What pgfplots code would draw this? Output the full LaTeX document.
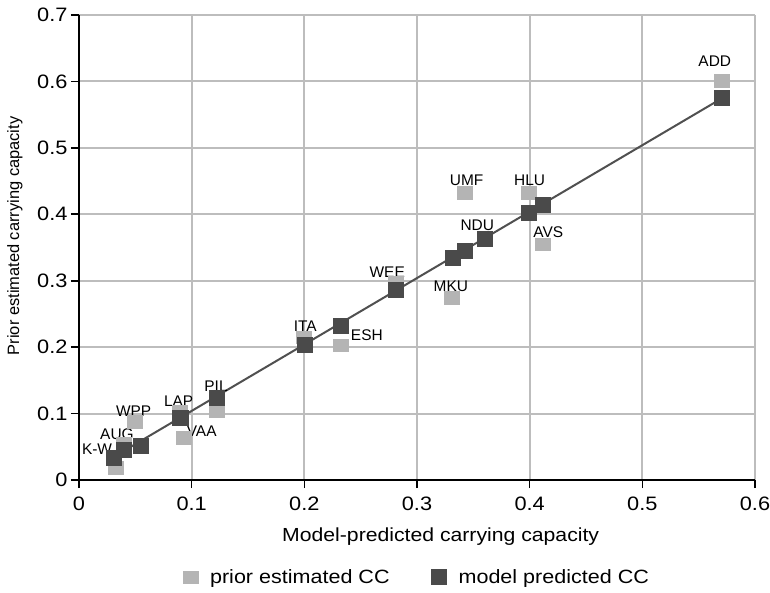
\documentclass[border=0pt]{standalone}
\usepackage{pgfplots}
\pgfplotsset{compat=1.18}
\usepackage{fontspec}
\setmainfont{Liberation Sans}
\newfontfamily\wide[FakeStretch=1.12]{Liberation Sans}
\definecolor{lightc}{HTML}{B4B4B4}
\definecolor{darkc}{HTML}{4A4A4A}
\definecolor{gridc}{HTML}{BDBDBD}
\definecolor{linec}{HTML}{505050}
\begin{document}
\begin{tikzpicture}
\path[use as bounding box] (-79bp,-113bp) rectangle (691bp,480bp);
\begin{axis}[
  at={(0,0)}, anchor=south west,
  scale only axis, width=676bp, height=465bp,
  xmin=0, xmax=0.6, ymin=0, ymax=0.7,
  xtick={0,0.1,0.2,0.3,0.4,0.5,0.6},
  xticklabels={0,0.1,0.2,0.3,0.4,0.5,0.6},
  ytick={0,0.1,0.2,0.3,0.4,0.5,0.6,0.7},
  yticklabels={0,0.1,0.2,0.3,0.4,0.5,0.6,0.7},
  axis x line=bottom, axis y line=left,
  axis line style={-, black, line width=1.6bp},
  grid=major, grid style={gridc, line width=2bp},
  tick align=outside, major tick length=8bp,
  tick style={black, line width=1.6bp},
  ticklabel style={font=\wide\fontsize{19.5}{22}\selectfont},
  xticklabel style={yshift=-5bp},
  xlabel={Model-predicted carrying capacity},
  xlabel style={at={(axis description cs:0.535,0)}, anchor=base, yshift=-61bp, font=\wide\fontsize{19}{22}\selectfont},
  ylabel={Prior estimated carrying capacity},
  ylabel style={at={(axis description cs:-0.0947,0.525)}, anchor=center, font=\fontsize{16.5}{19}\selectfont},
  legend columns=2,
  legend style={at={(axis description cs:0.5,-0.209)}, anchor=center, draw=none, fill=none,
    font=\wide\fontsize{19.3}{22}\selectfont,
    /tikz/every odd column/.append style={column sep=10bp},
    /tikz/every even column/.append style={column sep=40bp}},
]
\addplot[only marks, mark=square*, mark size=7.5bp, color=lightc, mark options={yscale=0.85}] coordinates {
 (0.033,0.019) (0.040,0.055) (0.0497,0.088) (0.0896,0.103) (0.0926,0.064)
 (0.122,0.104) (0.199,0.215) (0.2325,0.203) (0.281,0.297) (0.331,0.274)
 (0.3425,0.432) (0.360,0.364) (0.399,0.433) (0.4114,0.355) (0.570,0.601)
};
\addlegendentry{prior estimated CC}
\addplot[linec, line width=2bp, forget plot] coordinates {(0.026,0.030) (0.570,0.574)};
\addplot[only marks, mark=square*, mark size=7.5bp, color=darkc] coordinates {
 (0.031,0.034) (0.040,0.045) (0.0544,0.052) (0.0896,0.094) (0.090,0.094)
 (0.122,0.124) (0.2005,0.204) (0.2325,0.233) (0.281,0.286) (0.3315,0.335)
 (0.342,0.345) (0.360,0.364) (0.399,0.403) (0.4114,0.414) (0.570,0.575)
};
\addlegendentry{model predicted CC}
\begin{scope}[every node/.style={font=\fontsize{15.5}{17}\selectfont, anchor=center, inner sep=0pt}]
\node at (axis cs:0.5643,0.630) {ADD};
\node at (axis cs:0.344,0.451) {UMF};
\node at (axis cs:0.400,0.451) {HLU};
\node at (axis cs:0.3535,0.3835) {NDU};
\node at (axis cs:0.4165,0.3735) {AVS};
\node at (axis cs:0.2736,0.313) {WEE};
\node at (axis cs:0.330,0.292) {MKU};
\node at (axis cs:0.2008,0.232) {ITA};
\node at (axis cs:0.2555,0.2184) {ESH};
\node at (axis cs:0.1216,0.1416) {PIL};
\node at (axis cs:0.0884,0.119) {LAP};
\node at (axis cs:0.0485,0.1034) {WPP};
\node at (axis cs:0.1089,0.0733) {VAA};
\node at (axis cs:0.0337,0.0697) {AUG};
\node at (axis cs:0.016,0.047) {K-W};
\end{scope}
\end{axis}
\end{tikzpicture}
\end{document}
